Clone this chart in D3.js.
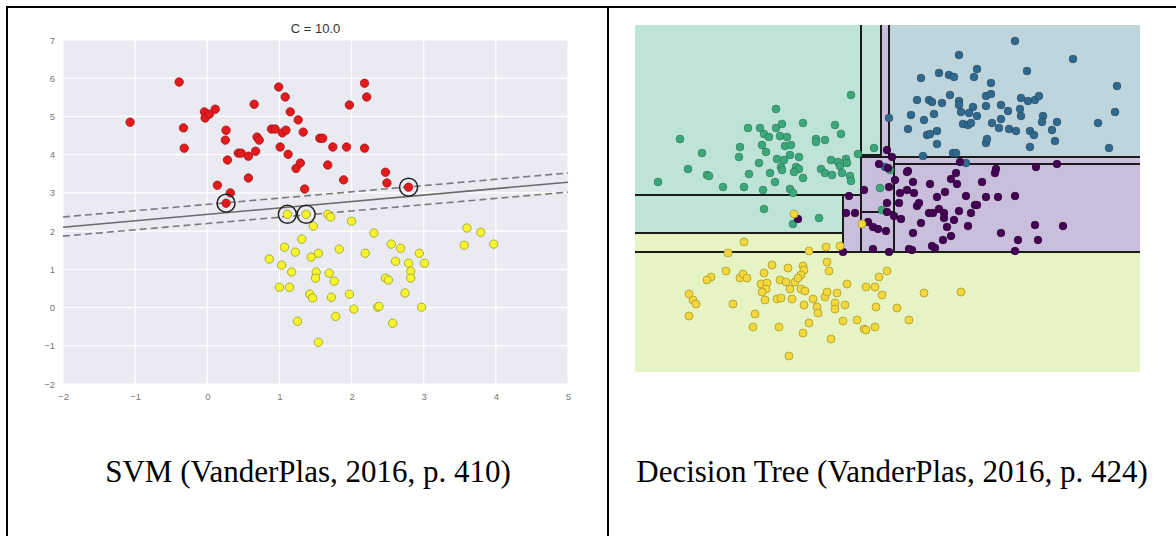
<!DOCTYPE html>
<html>
<head>
<meta charset="utf-8">
<script src="https://cdn.jsdelivr.net/npm/d3@7"></script>
<style>
  body { margin: 0; background: #fff; }
  svg { display: block; }
</style>
</head>
<body>
<svg id="chart" width="1176" height="536"></svg>
<script>
// ---- SVM panel data ----
const svmXTicks = [-2, -1, 0, 1, 2, 3, 4, 5];
const svmYTicks = [-2, -1, 0, 1, 2, 3, 4, 5, 6, 7];
const svmTitle = "C = 10.0";

const svmRed = [
  [-1.07, 4.85], [-0.39, 5.90], [-0.33, 4.70], [-0.32, 4.17], [-0.04, 5.12],
  [-0.03, 4.96], [0.03, 5.06], [0.11, 5.19], [0.26, 4.64], [0.25, 4.38],
  [0.28, 3.86], [0.14, 3.20], [0.43, 4.04], [0.47, 4.04], [0.57, 3.96],
  [0.57, 3.39], [0.65, 5.32], [0.69, 4.46], [0.72, 4.38], [0.67, 4.09],
  [0.89, 4.67], [0.94, 4.67], [0.99, 5.77], [1.04, 4.57], [1.09, 4.64],
  [1.08, 5.51], [1.15, 5.12], [1.01, 4.20], [1.12, 4.01], [1.23, 3.64],
  [1.26, 4.91], [0.32, 3.00], [0.26, 2.73], [1.33, 4.59], [1.29, 3.78],
  [1.56, 4.43], [1.60, 4.43], [1.74, 4.20], [1.93, 4.20], [1.67, 3.73],
  [1.89, 3.34], [1.97, 5.30], [2.18, 5.87], [2.21, 5.51], [2.18, 4.17],
  [2.47, 3.54], [2.49, 3.26], [2.79, 3.15], [1.35, 3.10]
];

const svmYellow = [
  [1.11, 2.44], [1.37, 2.44], [1.07, 1.58], [1.22, 1.45], [0.86, 1.27],
  [1.03, 1.11], [1.17, 0.93], [1.00, 0.53], [1.14, 0.53], [1.25, -0.36],
  [1.31, 1.79], [1.67, 2.44], [1.71, 2.37], [1.47, 2.13], [2.00, 2.26],
  [2.31, 1.95], [1.44, 1.32], [1.54, 1.42], [1.83, 1.53], [2.19, 1.42],
  [2.55, 1.66], [2.68, 1.55], [2.94, 1.42], [3.01, 1.16], [2.61, 1.21],
  [2.79, 1.16], [2.82, 0.95], [2.82, 0.77], [2.47, 0.77], [2.51, 0.72],
  [1.51, 0.93], [1.50, 0.77], [1.69, 0.90], [1.76, 0.69], [1.42, 0.35],
  [1.46, 0.25], [1.72, 0.27], [1.97, 0.35], [2.74, 0.38], [2.36, 0.01],
  [2.38, 0.03], [2.03, -0.04], [1.78, -0.23], [2.97, 0.01], [2.57, -0.41],
  [1.54, -0.91], [3.60, 2.08], [3.79, 1.97], [3.56, 1.63], [3.97, 1.66]
];

const svmSupport = [[0.26, 2.73], [2.79, 3.15], [1.11, 2.44], [1.37, 2.44]];
const svmBoundary = [[-2, 2.10], [5, 3.28]];
const svmMarginUpper = [[-2, 2.37], [5, 3.52]];
const svmMarginLower = [[-2, 1.87], [5, 3.02]];

// ---- Decision tree panel data (unitless coords) ----
const treeClassColors = ["#440154", "#31688e", "#3aa87a", "#f3d83a"];
const treeRegionColors = ["#c9bfdc", "#bfd5dd", "#bde4d7", "#e6f3c3"];

// [x0, x1, y0, y1, class]
const treeRegions = [
  [0, 101, 0, 24, 3],
  [0, 45.2, 35.4, 69.4, 2],
  [45.2, 49.2, 43, 69.4, 2],
  [49.2, 50.8, 43, 69.4, 0],
  [50.8, 101, 43, 69.4, 1],
  [45.2, 101, 24, 43, 0],
  [41.6, 45.2, 24, 35.4, 0],
  [0, 41.6, 27.8, 35.4, 2],
  [0, 41.6, 24, 27.8, 3]
];

// split lines [x0, y0, x1, y1]
const treeSplits = [
  [45.2, 24, 45.2, 69.4],
  [49.2, 43, 49.2, 69.4],
  [50.8, 43, 50.8, 69.4],
  [45.2, 43.4, 49.2, 43.4],
  [45.2, 43, 101, 43],
  [51.8, 41.6, 101, 41.6],
  [51.8, 24, 51.8, 43],
  [45.2, 32, 51.8, 32],
  [0, 35.4, 45.2, 35.4],
  [41.6, 24, 41.6, 35.4],
  [0, 27.8, 41.6, 27.8],
  [0, 24, 101, 24]
];

const treeGreen = [
  [43.2, 55.4], [28.2, 52.6], [22.6, 48.8], [25.0, 48.8], [28.2, 48.8],
  [29.4, 49.6], [33.6, 49.8], [40.0, 49.4], [9.0, 46.6], [25.8, 47.6],
  [26.8, 47.0], [29.0, 47.2], [30.4, 47.0], [36.2, 46.6], [38.0, 46.4],
  [41.2, 47.6], [21.0, 45.0], [25.4, 45.4], [30.0, 45.2], [31.2, 45.4],
  [36.2, 46.0], [13.4, 43.8], [26.2, 44.0], [31.0, 43.4], [20.8, 43.0],
  [28.4, 42.6], [29.8, 42.4], [32.8, 43.0], [39.2, 42.4], [40.6, 42.0],
  [42.2, 42.6], [44.6, 43.6], [47.8, 44.8], [24.8, 41.8], [29.2, 41.0],
  [32.2, 41.0], [32.8, 40.6], [37.2, 40.6], [41.0, 41.2], [42.4, 41.8],
  [10.6, 40.6], [14.4, 39.4], [14.8, 39.2], [22.8, 39.6], [27.0, 39.8],
  [29.4, 40.4], [31.8, 40.0], [33.6, 38.8], [38.0, 39.8], [39.4, 39.4],
  [41.4, 39.8], [43.0, 39.2], [4.6, 38.0], [17.6, 37.0], [21.8, 37.0],
  [25.6, 36.4], [28.0, 38.0], [31.0, 36.6], [31.6, 35.8], [43.2, 38.2],
  [25.8, 32.6], [31.6, 29.6], [36.8, 30.8], [49.0, 36.8], [51.0, 40.4],
  [49.4, 32.4]
];

const treeBlue = [
  [76.0, 66.2], [64.8, 63.4], [87.6, 62.6], [60.8, 59.8], [57.2, 58.8],
  [62.8, 59.4], [63.8, 59.0], [68.4, 60.6], [67.8, 59.0], [78.4, 60.2],
  [71.2, 57.8], [96.4, 57.2], [56.4, 54.4], [58.8, 54.4], [59.4, 54.0],
  [61.4, 53.8], [63.0, 55.4], [64.8, 54.2], [64.8, 53.4], [65.2, 52.0],
  [66.8, 51.8], [67.6, 53.0], [68.4, 51.2], [70.2, 55.2], [71.2, 55.6],
  [70.2, 53.2], [73.2, 53.4], [74.6, 52.2], [77.2, 54.8], [78.6, 54.2],
  [80.0, 54.4], [80.8, 55.2], [77.0, 52.6], [77.2, 51.2], [55.2, 51.4],
  [57.8, 50.4], [59.8, 51.6], [65.6, 49.6], [66.6, 49.4], [67.2, 49.8],
  [71.4, 49.8], [73.2, 50.6], [72.8, 48.8], [74.8, 48.6], [76.2, 48.2],
  [79.0, 48.2], [79.8, 47.4], [81.6, 51.2], [81.4, 50.0], [84.4, 50.0],
  [83.4, 48.4], [84.0, 46.2], [92.6, 49.8], [96.0, 52.0], [94.8, 44.8],
  [54.6, 48.6], [58.4, 47.4], [59.0, 47.6], [60.4, 48.2], [60.4, 45.6],
  [70.2, 45.8], [70.4, 46.6], [79.0, 45.0], [57.6, 43.2], [63.6, 43.8],
  [64.2, 43.8], [66.2, 41.8], [50.8, 50.8], [50.0, 41.0]
];

const treePurple = [
  [50.4, 44.4], [51.4, 43.0], [65.0, 42.0], [80.2, 41.0], [84.4, 41.6],
  [54.6, 40.2], [64.2, 39.8], [72.2, 40.6], [72.0, 39.8], [55.6, 38.0],
  [59.0, 37.6], [63.2, 38.6], [64.4, 37.6], [69.4, 38.0], [52.0, 38.4],
  [53.0, 35.8], [54.4, 36.4], [55.8, 35.8], [60.4, 35.0], [62.0, 36.0],
  [66.2, 35.2], [70.2, 35.0], [72.6, 35.0], [76.0, 35.2], [50.4, 33.8],
  [52.8, 33.8], [56.4, 33.2], [56.8, 33.8], [58.8, 31.8], [59.6, 31.8],
  [60.8, 32.6], [61.8, 31.8], [64.8, 32.2], [67.2, 31.8], [68.0, 33.4],
  [68.4, 33.4], [50.4, 32.0], [51.8, 31.2], [53.2, 30.6], [57.2, 29.8],
  [61.8, 30.8], [63.8, 30.4], [62.4, 29.0], [66.6, 29.2], [80.0, 29.4],
  [85.6, 29.2], [50.2, 28.2], [55.6, 27.8], [63.2, 27.2], [61.6, 26.4],
  [73.2, 27.8], [76.6, 26.4], [80.6, 26.4], [59.4, 25.2], [60.0, 24.8],
  [55.4, 24.4], [50.8, 24.0], [76.0, 24.2], [48.8, 41.6], [50.6, 40.8],
  [50.8, 37.0], [45.8, 36.4], [54.4, 40.0], [42.8, 35.2], [42.2, 31.8],
  [44.0, 31.8], [46.6, 30.0], [47.6, 29.0], [48.6, 28.6], [54.8, 24.6],
  [47.6, 24.6], [41.6, 24.0], [32.6, 30.6]
];

const treeYellow = [
  [31.8, 31.6], [45.4, 29.6], [21.8, 26.0], [18.6, 23.8], [34.8, 24.2],
  [38.2, 25.0], [41.0, 25.2], [38.4, 22.0], [27.4, 21.4], [33.6, 21.2],
  [33.8, 20.4], [38.8, 20.2], [50.4, 20.2], [18.2, 20.2], [25.8, 19.8],
  [30.6, 20.8], [33.2, 19.4], [15.2, 19.0], [14.4, 18.4], [21.0, 18.8],
  [21.6, 19.6], [22.4, 18.8], [29.0, 18.4], [30.2, 18.0], [32.0, 18.0],
  [32.6, 18.8], [48.8, 19.0], [25.2, 17.6], [26.4, 17.8], [26.2, 16.6],
  [25.4, 16.0], [31.0, 16.6], [33.2, 16.6], [34.0, 16.2], [42.4, 17.6],
  [46.2, 17.0], [48.0, 17.0], [10.8, 15.6], [11.6, 14.4], [12.2, 13.6],
  [10.8, 11.2], [19.6, 13.6], [26.0, 14.4], [28.4, 14.6], [29.2, 14.8],
  [31.4, 14.6], [33.8, 13.4], [35.6, 14.6], [36.4, 13.0], [36.6, 11.8],
  [38.0, 15.0], [38.4, 16.0], [40.4, 15.8], [40.0, 13.8], [40.0, 12.6],
  [42.0, 13.4], [49.4, 15.4], [48.2, 13.0], [52.4, 12.8], [24.0, 11.6],
  [23.6, 9.0], [28.8, 9.0], [34.8, 9.8], [33.6, 7.8], [41.6, 10.2],
  [44.4, 10.4], [45.8, 8.6], [46.2, 8.4], [48.0, 9.0], [39.2, 6.6],
  [30.8, 3.2], [57.8, 15.8], [65.2, 16.0], [54.8, 10.4]
];

const captions = [
  "SVM (VanderPlas, 2016, p. 410)",
  "Decision Tree (VanderPlas, 2016, p. 424)"
];

const svg = d3.select("#chart");

// ---- table frame ----
const frame = svg.append("g").attr("stroke", "#000").attr("stroke-width", 2);
frame.append("line").attr("x1", 6).attr("x2", 1176).attr("y1", 7).attr("y2", 7);
frame.append("line").attr("x1", 7).attr("x2", 7).attr("y1", 6).attr("y2", 536);
frame.append("line").attr("x1", 608).attr("x2", 608).attr("y1", 6).attr("y2", 536);

// ---- SVM panel ----
const sx = d3.scaleLinear().domain([-2, 5]).range([63, 568]);
const sy = d3.scaleLinear().domain([-2, 7]).range([384, 40]);

const svmG = svg.append("g");
svmG.append("rect")
  .attr("x", sx(-2)).attr("y", sy(7))
  .attr("width", sx(5) - sx(-2)).attr("height", sy(-2) - sy(7))
  .attr("fill", "#eaeaf2");

svmG.append("g").selectAll("line.vx")
  .data(svmXTicks)
  .enter().append("line")
    .attr("x1", d => sx(d)).attr("x2", d => sx(d))
    .attr("y1", sy(-2)).attr("y2", sy(7))
    .attr("stroke", "#fff").attr("stroke-width", 1.2);
svmG.append("g").selectAll("line.hy")
  .data(svmYTicks)
  .enter().append("line")
    .attr("x1", sx(-2)).attr("x2", sx(5))
    .attr("y1", d => sy(d)).attr("y2", d => sy(d))
    .attr("stroke", "#fff").attr("stroke-width", 1.2);

const fmt = d3.format("d");
const xAxis = svmG.append("g")
  .attr("transform", `translate(0,${sy(-2)})`)
  .call(d3.axisBottom(sx).tickValues(svmXTicks).tickSize(0).tickPadding(9).tickFormat(fmt));
const yAxis = svmG.append("g")
  .attr("transform", `translate(${sx(-2)},0)`)
  .call(d3.axisLeft(sy).tickValues(svmYTicks).tickSize(0).tickPadding(8).tickFormat(fmt));
[xAxis, yAxis].forEach(a => {
  a.select(".domain").remove();
  a.selectAll("text")
    .attr("fill", "#777")
    .style("font-family", "'Liberation Sans', Arial, sans-serif")
    .style("font-size", "9.5px");
});

svmG.append("text")
  .attr("x", (sx(-2) + sx(5)) / 2).attr("y", 33)
  .attr("text-anchor", "middle")
  .attr("fill", "#333")
  .style("font-family", "'Liberation Sans', Arial, sans-serif")
  .style("font-size", "13px")
  .text(svmTitle);

const lineGen = d3.line().x(d => sx(d[0])).y(d => sy(d[1]));
svmG.append("path").datum(svmBoundary)
  .attr("d", lineGen).attr("fill", "none")
  .attr("stroke", "#6a6a6a").attr("stroke-width", 1.6);
[svmMarginUpper, svmMarginLower].forEach(m => {
  svmG.append("path").datum(m)
    .attr("d", lineGen).attr("fill", "none")
    .attr("stroke", "#7a7a7a").attr("stroke-width", 1.6)
    .attr("stroke-dasharray", "7,4");
});

svmG.append("g").selectAll("circle")
  .data(svmRed)
  .enter().append("circle")
    .attr("cx", d => sx(d[0])).attr("cy", d => sy(d[1]))
    .attr("r", 4.2)
    .attr("fill", "#e41a1c").attr("stroke", "#9a1515").attr("stroke-width", 0.8);
svmG.append("g").selectAll("circle")
  .data(svmYellow)
  .enter().append("circle")
    .attr("cx", d => sx(d[0])).attr("cy", d => sy(d[1]))
    .attr("r", 4.2)
    .attr("fill", "#f5f52a").attr("stroke", "#9a9a30").attr("stroke-width", 0.8);
svmG.append("g").selectAll("circle")
  .data(svmSupport)
  .enter().append("circle")
    .attr("cx", d => sx(d[0])).attr("cy", d => sy(d[1]))
    .attr("r", 9)
    .attr("fill", "none").attr("stroke", "#222").attr("stroke-width", 1.5);

// ---- Decision tree panel ----
const tx = d3.scaleLinear().domain([0, 101]).range([635, 1140]);
const ty = d3.scaleLinear().domain([0, 69.4]).range([372, 25]);

const treeG = svg.append("g");
treeG.append("g").selectAll("rect")
  .data(treeRegions)
  .enter().append("rect")
    .attr("x", d => tx(d[0])).attr("y", d => ty(d[3]))
    .attr("width", d => tx(d[1]) - tx(d[0]))
    .attr("height", d => ty(d[2]) - ty(d[3]))
    .attr("fill", d => treeRegionColors[d[4]]);

treeG.append("g").selectAll("line")
  .data(treeSplits)
  .enter().append("line")
    .attr("x1", d => tx(d[0])).attr("y1", d => ty(d[1]))
    .attr("x2", d => tx(d[2])).attr("y2", d => ty(d[3]))
    .attr("stroke", "#1b1b1b").attr("stroke-width", 2);

const treeSets = [
  {pts: treeGreen, cls: 2},
  {pts: treeBlue, cls: 1},
  {pts: treePurple, cls: 0},
  {pts: treeYellow, cls: 3}
];
treeSets.forEach(s => {
  treeG.append("g").selectAll("circle")
    .data(s.pts)
    .enter().append("circle")
      .attr("cx", d => tx(d[0])).attr("cy", d => ty(d[1]))
      .attr("r", 4)
      .attr("fill", treeClassColors[s.cls])
      .attr("stroke", s.cls === 3 ? "#b09a30" : "rgba(0,0,0,0.25)")
      .attr("stroke-width", 0.8);
});

// ---- captions ----
svg.append("g").selectAll("text")
  .data(captions)
  .enter().append("text")
    .attr("x", (d, i) => i === 0 ? 308 : 892)
    .attr("y", 482)
    .attr("text-anchor", "middle")
    .attr("fill", "#000")
    .style("font-family", "'Liberation Serif', 'Times New Roman', serif")
    .style("font-size", "31px")
    .text(d => d);
</script>
</body>
</html>
